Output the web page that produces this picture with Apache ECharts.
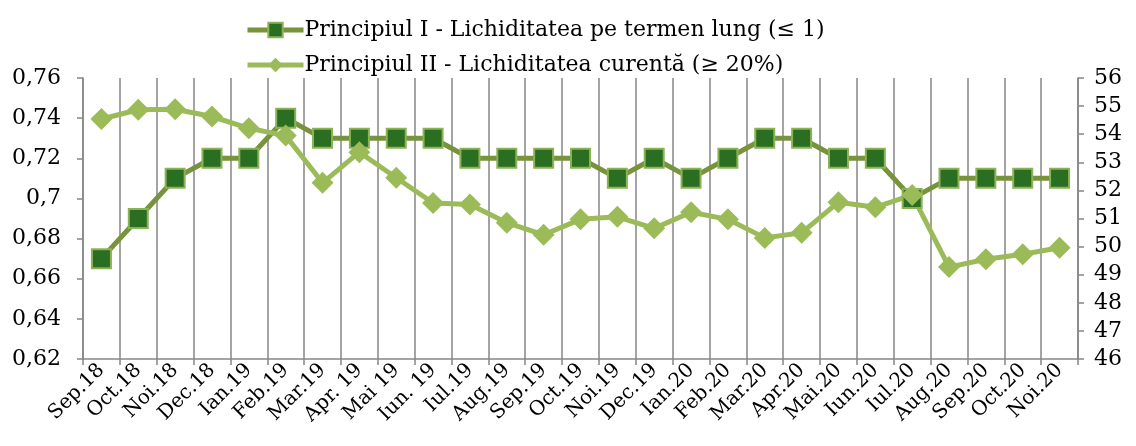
<!DOCTYPE html>
<html lang="ro">
<head>
<meta charset="utf-8">
</head>
<body style="margin:0; background:#fff">
<div id="container" style="width:1136px; height:446px"></div>
<script src="https://cdn.jsdelivr.net/npm/echarts@6/dist/echarts.min.js"></script>
<script>
// luni
const months = ['Sep.18', 'Oct.18', 'Noi.18', 'Dec.18', 'Ian.19', 'Feb.19', 'Mar.19', 'Apr. 19', 'Mai 19', 'Iun. 19',
    'Iul.19', 'Aug.19', 'Sep.19', 'Oct.19', 'Noi.19', 'Dec.19', 'Ian.20', 'Feb.20', 'Mar.20', 'Apr.20',
    'Mai.20', 'Iun.20', 'Iul.20', 'Aug.20', 'Sep.20', 'Oct.20', 'Noi.20'];
// Principiul I (axa stanga)
const principiulI = [0.67, 0.69, 0.71, 0.72, 0.72, 0.74, 0.73, 0.73, 0.73, 0.73,
    0.72, 0.72, 0.72, 0.72, 0.71, 0.72, 0.71, 0.72, 0.73, 0.73,
    0.72, 0.72, 0.70, 0.71, 0.71, 0.71, 0.71];
// Principiul II (axa dreapta)
const principiulII = [54.54, 54.87, 54.89, 54.63, 54.21, 53.95, 52.27, 53.36, 52.45, 51.55,
    51.5, 50.85, 50.42, 50.97, 51.06, 50.65, 51.22, 50.97, 50.31, 50.49,
    51.58, 51.4, 51.84, 49.27, 49.55, 49.73, 49.96];
const leftTicks = { min: 0.62, max: 0.76, interval: 0.02 };
const rightTicks = { min: 46, max: 56, interval: 1 };

const FONT = 'DejaVu Serif';
const axisGray = '#868686';
const nameI = 'Principiul I - Lichiditatea pe termen lung (≤ 1)';
const nameII = 'Principiul II - Lichiditatea curentă (≥ 20%)';

var myChart = echarts.init(document.getElementById('container'), null, { renderer: 'canvas' });

var option = {
    animation: false,
    textStyle: { fontFamily: FONT },
    legend: {
        orient: 'vertical',
        left: 240,
        top: 14,
        itemWidth: 56,
        itemHeight: 18,
        itemGap: 13,
        textStyle: { fontFamily: FONT, fontSize: 22, color: '#000', padding: [0, 0, 0, -4] },
        data: [
            { name: nameI, lineStyle: { width: 5 } },
            { name: nameII, lineStyle: { width: 5 } }
        ]
    },
    grid: { left: 83, right: 58, top: 78, bottom: 87 },
    xAxis: {
        type: 'category',
        data: months,
        boundaryGap: true,
        axisLine: { lineStyle: { color: axisGray, width: 1.5 } },
        axisTick: { show: true, length: 6, lineStyle: { color: axisGray, width: 1.5 } },
        splitLine: { show: true, lineStyle: { color: axisGray, width: 1.5 } },
        axisLabel: {
            rotate: 45,
            interval: 0,
            margin: 8,
            fontFamily: FONT,
            fontSize: 20,
            color: '#000'
        }
    },
    yAxis: [{
            type: 'value',
            min: leftTicks.min,
            max: leftTicks.max,
            interval: leftTicks.interval,
            axisLine: { show: true, lineStyle: { color: axisGray, width: 1.5 } },
            axisTick: { show: true, length: 6, lineStyle: { color: axisGray, width: 1.5 } },
            splitLine: { show: false },
            axisLabel: {
                margin: 22,
                fontFamily: FONT,
                fontSize: 22,
                color: '#000',
                formatter: v => String(+v.toFixed(2)).replace('.', ',')
            }
        },
        {
            type: 'value',
            min: rightTicks.min,
            max: rightTicks.max,
            interval: rightTicks.interval,
            axisLine: { show: true, lineStyle: { color: axisGray, width: 1.5 } },
            axisTick: { show: true, length: 6, lineStyle: { color: axisGray, width: 1.5 } },
            splitLine: { show: false },
            axisLabel: {
                margin: 16,
                fontFamily: FONT,
                fontSize: 22,
                color: '#000'
            }
        }
    ],
    series: [{
            name: nameI,
            type: 'line',
            yAxisIndex: 0,
            data: principiulI,
            symbol: 'rect',
            symbolSize: 19,
            lineStyle: { color: '#77933C', width: 5 },
            itemStyle: { color: '#2A6E22', borderColor: '#8DB255', borderWidth: 2 }
        },
        {
            name: nameII,
            type: 'line',
            yAxisIndex: 1,
            data: principiulII,
            symbol: 'diamond',
            symbolSize: [22, 22],
            lineStyle: { color: '#9BBB59', width: 5 },
            itemStyle: { color: '#9BBB59', borderColor: '#9BBB59', borderWidth: 0 }
        }
    ]
};

myChart.setOption(option);
window.addEventListener('resize', myChart.resize);
</script>
</body>
</html>
